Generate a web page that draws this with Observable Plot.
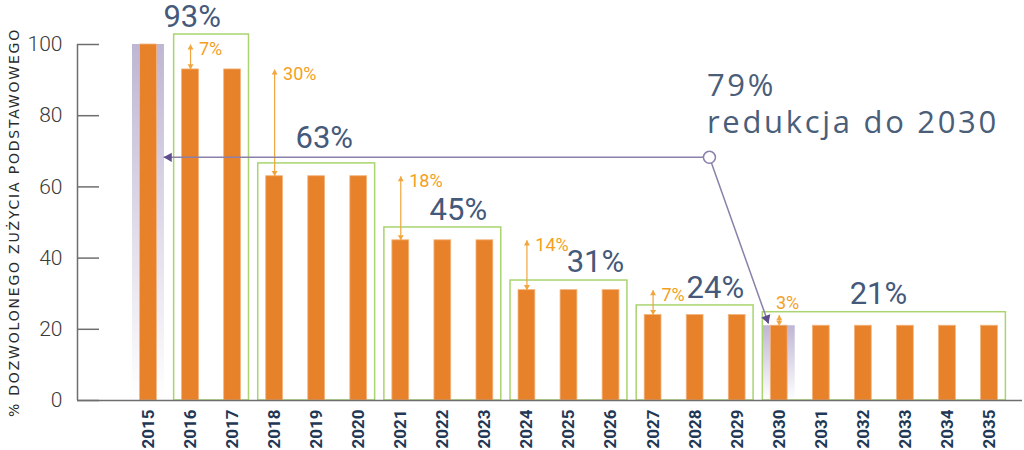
<!DOCTYPE html>
<html><head><meta charset="utf-8">
<script src="https://cdn.jsdelivr.net/npm/d3@7"></script>
<script src="https://cdn.jsdelivr.net/npm/@observablehq/plot@0.6"></script>
<style>
body{margin:0;background:#fff}
.ytitle text{letter-spacing:1.8px}
.note text{letter-spacing:2.7px}
</style></head><body><div id="chart"></div>
<script>
// ---- data ----
const years = [2015,2016,2017,2018,2019,2020,2021,2022,2023,2024,2025,2026,2027,2028,2029,2030,2031,2032,2033,2034,2035];
const values = [100,93,93,63,63,63,45,45,45,31,31,31,24,24,24,21,21,21,21,21,21];
const groupStart = [2016,2018,2021,2024,2027,2030];
const groupEnd = [2017,2020,2023,2026,2029,2035];
const groupLevel = [93,63,45,31,24,21];
const prevLevel = [100,93,63,45,31,24];
const groupLabels = ["93%","63%","45%","31%","24%","21%"];
const stepLabels = ["7%","30%","18%","14%","7%","3%"];
const yTicks = [0,20,40,60,80,100];
const highlightYears = [2015,2030];
const noteLines = ["79%","redukcja do 2030"];
const yTitle = "% DOZWOLONEGO ZUŻYCIA PODSTAWOWEGO";

// ---- derived tables ----
const bars = years.map((year,i)=>({year, value: values[i]}));
const groups = groupStart.map((start,i)=>({start, end: groupEnd[i], level: groupLevel[i], prev: prevLevel[i], label: groupLabels[i], step: stepLabels[i]}));
const highlight = highlightYears.map(year=>({year, value: values[years.indexOf(year)]}));

// ---- layout / style ----
const halfBar = 0.2, halfBand = 0.38, boxPad = 0.39;
const boxLift = [9.8,3.6,3.6,2.7,2.7,3.8];
const labelShift = [0.04,1.18,1.37,1.63,1.48,2.36];
const labelY = [107.7,73.6,53.4,39.0,31.7,29.8];
const x0 = years[0] - 1.688, x1 = years[years.length-1] + 0.785;
const tickLen = 22/42.05;
const orange = "#e8822a", amber = "#f2a53c", green = "#a9d46f", slate = "#45597a", purple = "#5e4d8e", purpleLine = "#8b80aa";
const hub = {x: 2028.34, y: 68.3};
const leftTip = {x: years[0] + 0.36, y: hub.y};
const downTip = {x: 2030 - 0.255, y: 21.6};
const diagAngle = 160.4;

const defs = () => {
  const d = d3.create("svg:defs");
  const g = d.append("linearGradient").attr("id","lav").attr("x1",0).attr("y1",0).attr("x2",0).attr("y2",1);
  g.append("stop").attr("offset","0%").attr("stop-color","#bfb6d3");
  g.append("stop").attr("offset","100%").attr("stop-color","#ffffff");
  return d.node();
};

const chart = Plot.plot({
  width: 1024, height: 450,
  marginLeft: 77, marginRight: 2, marginTop: 44, marginBottom: 50,
  style: {fontFamily: "Roboto", background: "#fff"},
  x: {type: "linear", domain: [x0, x1]},
  y: {domain: [0, 100]},
  marks: [
    defs,
    Plot.rectY(highlight, {x1: d=>d.year-halfBand, x2: d=>d.year+halfBand, y1: 0, y2: "value", fill: "url(#lav)"}),
    Plot.rectY(groups, {x1: d=>d.start-boxPad, x2: d=>d.end+boxPad, y1: 0, y2: (d,i)=>d.level+boxLift[i], fill: "none", stroke: green, strokeWidth: 1.5}),
    Plot.rectY(bars, {x1: d=>d.year-halfBar, x2: d=>d.year+halfBar, y1: 0, y2: "value", fill: orange, stroke: "#f3b47e", strokeWidth: 0.8}),
    Plot.ruleY([0], {stroke: "#6e6e6e", strokeWidth: 1.5}),
    Plot.ruleX([x0], {y1: 0, y2: 100, stroke: "#6e6e6e", strokeWidth: 1.5}),
    Plot.ruleY(yTicks, {x1: x0, x2: x0 + tickLen, stroke: "#6e6e6e", strokeWidth: 1.5}),
    Plot.axisY({ticks: yTicks, tickSize: 0, tickPadding: 15, fontSize: 21, fontWeight: 300, fill: "#3a3a3a", label: null}),
    Plot.axisX({ticks: years, tickFormat: d=>String(d), tickSize: 0, tickPadding: 9, tickRotate: -90, fontSize: 17, fontWeight: "bold", fill: "#1f3856", label: null}),
    Plot.text([yTitle], {text: d=>d, frameAnchor: "left", textAnchor: "middle", lineAnchor: "middle", dx: -63, rotate: -90, fontSize: 14, fontFamily: "DejaVu Sans", fill: "#2b2b2b", className: "ytitle"}),
    Plot.link(groups, {x1: "start", x2: "start", y1: "prev", y2: "level", stroke: amber, strokeWidth: 1.2}),
    Plot.dot(groups, {x: "start", y: "prev", symbol: "triangle", r: 2.2, fill: amber, dy: 3.4}),
    Plot.dot(groups, {x: "start", y: "level", symbol: "triangle", r: 2.2, fill: amber, rotate: 180, dy: -3.4}),
    Plot.text(groups.slice(0,-1), {x: d=>d.start+halfBar, y: d=>d.prev-1.3, text: "step", textAnchor: "start", lineAnchor: "middle", fontSize: 18, fill: "#f3a01e"}),
    Plot.text(groups.slice(-1), {x: d=>d.start+0.2, y: d=>d.prev+3.4, text: "step", textAnchor: "middle", lineAnchor: "middle", fontSize: 18, fill: "#f3a01e"}),
    Plot.text(groups, {x: (d,i)=>d.start+labelShift[i], y: (d,i)=>labelY[i], text: "label", textAnchor: "middle", lineAnchor: "middle", fontSize: 31, fill: slate}),
    Plot.link([{a: hub, b: leftTip}, {a: hub, b: downTip}], {x1: d=>d.a.x, y1: d=>d.a.y, x2: d=>d.b.x, y2: d=>d.b.y, stroke: purpleLine, strokeWidth: 1.5}),
    Plot.dot([leftTip], {x: "x", y: "y", symbol: "triangle", r: 3.5, rotate: -90, fill: purple, dx: 5.4}),
    Plot.dot([downTip], {x: "x", y: "y", symbol: "triangle", r: 3.5, rotate: diagAngle, fill: purple, dx: -1.8, dy: -5.1}),
    Plot.dot([hub], {x: "x", y: "y", r: 6, fill: "#fff", stroke: purpleLine, strokeWidth: 1.5}),
    Plot.text([noteLines[0]], {text: d=>d, x: hub.x - 0.06, y: 91.8, textAnchor: "start", lineAnchor: "top", fontSize: 31, fontFamily: "Open Sans", fill: "#4a5e79", className: "note"}),
    Plot.text([noteLines[1]], {text: d=>d, x: hub.x - 0.06, y: 81.4, textAnchor: "start", lineAnchor: "top", fontSize: 31, fontFamily: "Open Sans", fill: "#4a5e79", className: "note"})
  ]
});
document.getElementById("chart").append(chart);
</script></body></html>
